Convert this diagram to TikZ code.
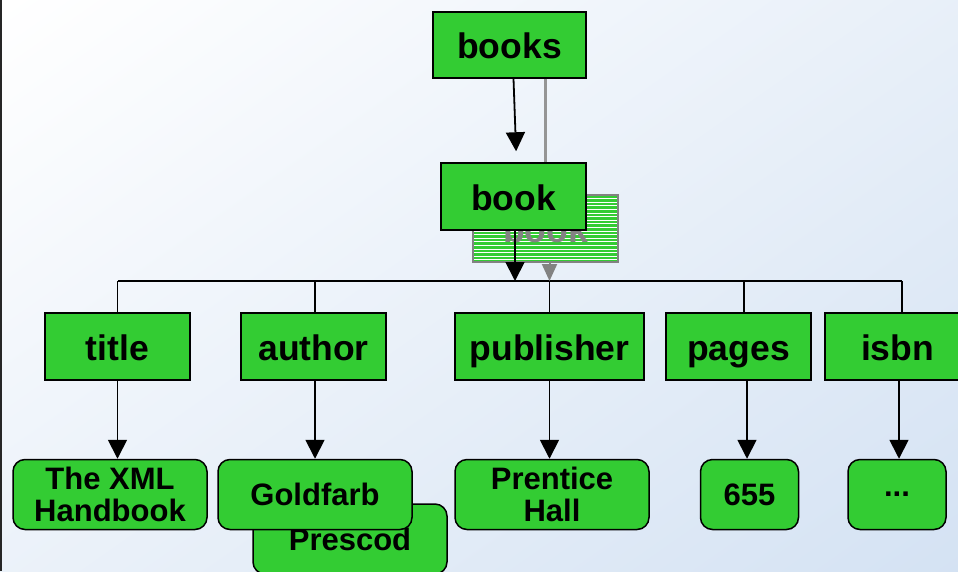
\documentclass[tikz,border=0pt]{standalone}
\usepackage{fontspec}
\setmainfont{Liberation Sans}
\usetikzlibrary{arrows.meta}
\definecolor{boxgreen}{RGB}{51,204,51}
\definecolor{paleblue}{RGB}{212,226,243}
\definecolor{shadowgray}{RGB}{130,130,130}
\begin{document}
\begin{tikzpicture}[x=1pt,y=-1pt,
  elem/.style={draw=black, line width=1.5pt, fill=boxgreen, inner sep=0pt,
    text height=30pt, text depth=3pt,
    font=\bfseries\fontsize{35.5}{36}\selectfont},
  val/.style={draw=black, line width=1.5pt, fill=boxgreen, inner sep=0pt,
    rounded corners=12pt, align=center,
    font=\bfseries\fontsize{31}{32}\selectfont},
  ghost/.style={draw=shadowgray, line width=1.5pt, fill=boxgreen, inner sep=0pt,
    path picture={\foreach \k in {1,...,18}{
      \draw[white, line width=0.9pt]
        ([yshift=-\k*3.6pt]path picture bounding box.north west) --
        ([yshift=-\k*3.6pt]path picture bounding box.north east);}}},
  ghostlabel/.style={inner sep=0pt, text=shadowgray,
    text height=30pt, text depth=3pt,
    font=\bfseries\fontsize{35.5}{36}\selectfont},
  arr/.style={line width=1.8pt, -{Triangle[length=19pt,width=19pt]}},
  garr/.style={shadowgray, line width=2pt, -{Triangle[length=17pt,width=15pt]}},
  bus/.style={line width=1.4pt}]

% background
\useasboundingbox (0,0) rectangle (958,571);
\clip (0,0) rectangle (958,571);
\shade[shading=axis, top color=white, bottom color=paleblue, shading angle=35]
  (-200,-100) rectangle (1160,680);
\draw[line width=2.5pt, black!85] (1,0) -- (1,571);

% root and its ghost copy
\node[elem, minimum width=153pt, minimum height=66pt] (books) at (509.5,45) {books};
\node[ghost, minimum width=145pt, minimum height=67pt] (bookghost) at (545.5,228.5) {};
\node[ghostlabel] (ghosttext) at (bookghost.center) {book};
\draw[shadowgray!85, line width=2.2pt] ([xshift=36pt]books.south) -- (545.5,163);
\node[elem, minimum width=145pt, minimum height=67pt] (book) at (513.5,196.5) {book};
\draw[arr, shorten >=11pt] ([xshift=4pt]books.south) -- ([xshift=3pt]book.north);

% bus to the children
\coordinate (busL) at (118,281);
\coordinate (busR) at (902,281);
\draw[bus] (busL) -- (busR);
\draw[arr] ([xshift=1.5pt]book.south) -- ([xshift=1.5pt]book.south |- busL);
\draw[garr] ([xshift=4pt]bookghost.south) -- ([xshift=4pt]bookghost.south |- busL);

% child elements
\node[elem, minimum width=145pt, minimum height=67pt] (title) at (117.5,346.5) {title};
\node[elem, minimum width=145pt, minimum height=67pt] (author) at (313.5,346.5) {author};
\node[elem, minimum width=189pt, minimum height=67pt] (publisher) at (549.5,346.5) {publisher};
\node[elem, minimum width=145pt, minimum height=67pt] (pages) at (738.5,346.5) {pages};
\node[elem, minimum width=145pt, minimum height=67pt] (isbn) at (897.5,346.5) {isbn};

\draw[bus] (title.north) -- (title.north |- busL);
\draw[bus] ([xshift=1.5pt]author.north) -- ([xshift=1.5pt]author.north |- busL);
\draw[bus] (publisher.north) -- (publisher.north |- busL);
\draw[bus] ([xshift=5.5pt]pages.north) -- ([xshift=5.5pt]pages.north |- busL);
\draw[bus] ([xshift=4.5pt]isbn.north) -- ([xshift=4.5pt]isbn.north |- busR);

% values
\node[val, minimum width=194pt, minimum height=70pt] (xml) at (110,494.5) {The XML\\Handbook};
\node[val, minimum width=194pt, minimum height=70pt] (prescod) at (350,539) {\raisebox{-4pt}{Prescod}};
\node[val, minimum width=194pt, minimum height=70pt] (goldfarb) at (315,494.5) {Goldfarb};
\node[val, minimum width=194pt, minimum height=70pt] (prentice) at (552,494.5) {Prentice\\Hall};
\node[val, minimum width=98pt, minimum height=70pt] (num) at (749.5,494.5) {655};
\node[val, minimum width=98pt, minimum height=70pt] (more) at (897,494.5) {...};

\draw[arr] (title.south) -- (title.south |- xml.north);
\draw[arr] ([xshift=1.5pt]author.south) -- ([xshift=1.5pt]author.south |- goldfarb.north);
\draw[arr] (publisher.south) -- (publisher.south |- prentice.north);
\draw[arr] ([xshift=8.5pt]pages.south) -- ([xshift=8.5pt]pages.south |- num.north);
\draw[arr] ([xshift=1.5pt]isbn.south) -- ([xshift=1.5pt]isbn.south |- more.north);
\end{tikzpicture}
\end{document}
